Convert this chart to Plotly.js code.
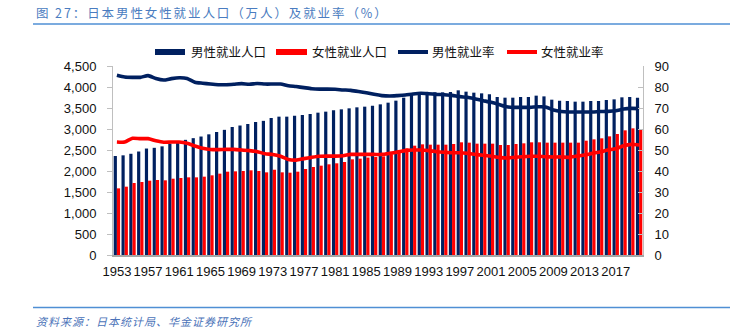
<!DOCTYPE html>
<html>
<head>
<meta charset="utf-8">
<script src="https://cdn.plot.ly/plotly-3.0.1.min.js"></script>
<style>
html,body{margin:0;padding:0;background:#fff;}
#chart{width:730px;height:333px;}
</style>
</head>
<body>
<div id="chart"></div>
<script>
// ---- data ----
var years = [1953,1954,1955,1956,1957,1958,1959,1960,1961,1962,
             1963,1964,1965,1966,1967,1968,1969,1970,1971,1972,
             1973,1974,1975,1976,1977,1978,1979,1980,1981,1982,
             1983,1984,1985,1986,1987,1988,1989,1990,1991,1992,
             1993,1994,1995,1996,1997,1998,1999,2000,2001,2002,
             2003,2004,2005,2006,2007,2008,2009,2010,2011,2012,
             2013,2014,2015,2016,2017,2018,2019,2020];

var tickYears = [1953,1957,1961,1965,1969,1973,1977,1981,1985,1989,1993,1997,2001,2005,2009,2013,2017];
var tickLabels = ["1953","1957","1961","1965","1969","1973","1977","1981","1985","1989","1993","1997","2001","2005","2009","2013","2017"];

// 男性就业人口 (万人)
var maleEmp = [2357,2373,2410,2464,2535,2552,2587,2651,2671,2742,
               2782,2821,2873,2929,2980,3048,3083,3119,3167,3194,
               3262,3294,3294,3317,3333,3357,3389,3413,3444,3468,
               3492,3516,3532,3556,3587,3627,3675,3746,3817,3865,
               3865,3873,3873,3881,3921,3889,3865,3849,3825,3762,
               3746,3746,3762,3762,3794,3777,3698,3675,3667,3651,
               3651,3667,3667,3690,3706,3754,3762,3746];

// 女性就业人口 (万人)
var femaleEmp = [1587,1627,1714,1738,1770,1786,1778,1817,1833,1849,
                 1849,1865,1897,1937,1984,1992,2000,2016,2000,1968,
                 2030,1968,1960,1984,2048,2095,2127,2159,2183,2214,
                 2278,2294,2320,2333,2349,2397,2492,2540,2603,2635,
                 2627,2627,2627,2643,2683,2675,2651,2651,2651,2619,
                 2619,2643,2659,2683,2683,2675,2675,2675,2675,2675,
                 2722,2754,2778,2825,2881,2968,3016,2992];

// 男性就业率 (%)
var maleRate = [85.6,84.8,84.6,84.6,85.4,84.0,83.3,84.0,84.4,84.1,
                82.3,81.8,81.4,81.1,81.1,81.3,81.6,81.3,81.7,81.4,
                81.4,81.4,80.6,80.2,79.7,79.2,79.0,79.0,78.9,78.6,
                78.4,77.9,77.3,76.5,75.9,75.7,75.9,76.2,76.7,77.0,
                76.8,76.5,76.3,76.0,75.4,75.1,74.3,73.5,72.7,71.7,
                70.6,70.3,70.3,70.3,70.6,70.5,69.0,68.3,68.1,68.1,
                68.1,68.1,68.3,68.4,68.7,69.5,69.8,69.7];

// 女性就业率 (%)
var femaleRate = [53.8,53.8,55.6,55.4,55.4,54.4,53.7,53.8,53.8,53.2,
                  51.9,50.8,50.2,50.2,50.3,50.3,50.0,49.7,49.2,48.2,
                  47.9,47.0,45.5,45.2,45.9,46.5,47.0,47.1,47.1,47.3,
                  47.9,47.9,47.9,47.9,47.9,48.4,49.0,49.7,50.0,50.0,
                  49.7,49.2,48.9,48.7,48.7,48.4,47.9,47.5,47.1,46.5,
                  46.2,46.5,46.8,47.0,47.0,46.8,46.7,46.7,46.5,47.1,
                  47.6,48.4,49.0,50.0,50.6,52.0,52.7,52.4];

var seriesNames = ["男性就业人口","女性就业人口","男性就业率","女性就业率"];
var titleText = "图 27：日本男性女性就业人口（万人）及就业率（%）";
var sourceText = "资料来源：日本统计局、华金证券研究所";

// ---- layout helpers (pixel -> paper) ----
var W = 730, H = 333;
var M = {l:113, r:87, t:66, b:78};
var PW = W - M.l - M.r, PH = H - M.t - M.b;
function px(x){ return (x - M.l) / PW; }
function py(y){ return (H - M.b - y) / PH; }

var NAVY = "#002060", RED = "#FF0000", BLUE = "#4F8FD4";
var numFont = "Liberation Sans, Arial, sans-serif";
var cjkFont = "Noto Sans CJK SC, sans-serif";

var traces = [
  {type:"bar", name:seriesNames[0], x:years, y:maleEmp, marker:{color:NAVY}, yaxis:"y", hoverinfo:"skip"},
  {type:"bar", name:seriesNames[1], x:years, y:femaleEmp, marker:{color:RED}, yaxis:"y", hoverinfo:"skip"},
  {type:"scatter", mode:"lines", name:seriesNames[2], x:years, y:maleRate, yaxis:"y2",
   line:{color:NAVY, width:3.6, shape:"spline", smoothing:0.6}},
  {type:"scatter", mode:"lines", name:seriesNames[3], x:years, y:femaleRate, yaxis:"y2",
   line:{color:RED, width:3.6, shape:"spline", smoothing:0.6}}
];

var shapes = [
  {type:"line", xref:"paper", yref:"paper", x0:px(33), x1:px(730), y0:py(24), y1:py(24), line:{color:BLUE, width:1.5}},
  {type:"line", xref:"paper", yref:"paper", x0:px(33), x1:px(730), y0:py(307.5), y1:py(307.5), line:{color:BLUE, width:1.5}},
  // legend swatches
  {type:"rect", xref:"paper", yref:"paper", x0:px(155), x1:px(185), y0:py(55), y1:py(49), fillcolor:NAVY, line:{width:0}},
  {type:"rect", xref:"paper", yref:"paper", x0:px(276), x1:px(307), y0:py(55), y1:py(49), fillcolor:RED, line:{width:0}},
  {type:"line", xref:"paper", yref:"paper", x0:px(398), x1:px(428), y0:py(52), y1:py(52), line:{color:NAVY, width:4}},
  {type:"line", xref:"paper", yref:"paper", x0:px(507), x1:px(537), y0:py(52), y1:py(52), line:{color:RED, width:4}}
];

var legFont = {family:cjkFont, size:12.5, color:"#111"};
var annotations = [
  {xref:"paper", yref:"paper", x:px(34), y:py(13), xanchor:"left", yanchor:"middle", align:"left", showarrow:false,
   text:titleText, font:{family:cjkFont, size:12.5, color:"#4A7CC0"}},
  {xref:"paper", yref:"paper", x:px(34), y:py(321), xanchor:"left", yanchor:"middle", align:"left", showarrow:false,
   text:"<i>"+sourceText+"</i>", font:{family:cjkFont, size:11, color:"#4A72B8"}},
  {xref:"paper", yref:"paper", x:px(189), y:py(52), xanchor:"left", yanchor:"middle", align:"left", showarrow:false, text:seriesNames[0], font:legFont},
  {xref:"paper", yref:"paper", x:px(310), y:py(52), xanchor:"left", yanchor:"middle", align:"left", showarrow:false, text:seriesNames[1], font:legFont},
  {xref:"paper", yref:"paper", x:px(430), y:py(52), xanchor:"left", yanchor:"middle", align:"left", showarrow:false, text:seriesNames[2], font:legFont},
  {xref:"paper", yref:"paper", x:px(539), y:py(52), xanchor:"left", yanchor:"middle", align:"left", showarrow:false, text:seriesNames[3], font:legFont}
];

var layout = {
  width:W, height:H,
  margin:{l:M.l, r:M.r, t:M.t, b:M.b, pad:0},
  paper_bgcolor:"#fff", plot_bgcolor:"#fff",
  showlegend:false,
  barmode:"group", bargap:0.18, bargroupgap:0,
  font:{family:numFont, size:13, color:"#111"},
  xaxis:{type:"linear", range:[1952.5, 2020.5], tickmode:"array", tickvals:tickYears, ticktext:tickLabels,
         showgrid:false, zeroline:false, showline:true, linecolor:"#A6A6A6", linewidth:1.5,
         ticks:"", ticklabelstandoff:4, tickfont:{family:numFont, size:13, color:"#111"}},
  yaxis:{range:[0,4500], dtick:500, tick0:0, tickformat:",", showgrid:false, zeroline:false,
         showline:true, linecolor:"#BFBFBF", linewidth:1, ticks:"outside", ticklen:5, tickcolor:"#BFBFBF",
         ticklabelstandoff:8, tickfont:{family:numFont, size:13, color:"#111"}},
  yaxis2:{range:[0,90], dtick:10, tick0:0, overlaying:"y", side:"right", showgrid:false, zeroline:false,
          showline:true, linecolor:"#BFBFBF", linewidth:1, ticks:"inside", ticklen:5, tickcolor:"#BFBFBF",
          ticklabelstandoff:8, tickfont:{family:numFont, size:13, color:"#111"}},
  shapes:shapes,
  annotations:annotations
};

Plotly.newPlot("chart", traces, layout, {staticPlot:true, displayModeBar:false}).then(function(){
  var els = document.querySelectorAll("#chart .annotation-text");
  els.forEach(function(el){
    var t = el.textContent || "";
    if (t.indexOf("图") === 0) { el.style.letterSpacing = "1.9px"; }
    if (t.indexOf("资料") === 0) { el.style.letterSpacing = "1px"; }
  });
});
</script>
</body>
</html>
